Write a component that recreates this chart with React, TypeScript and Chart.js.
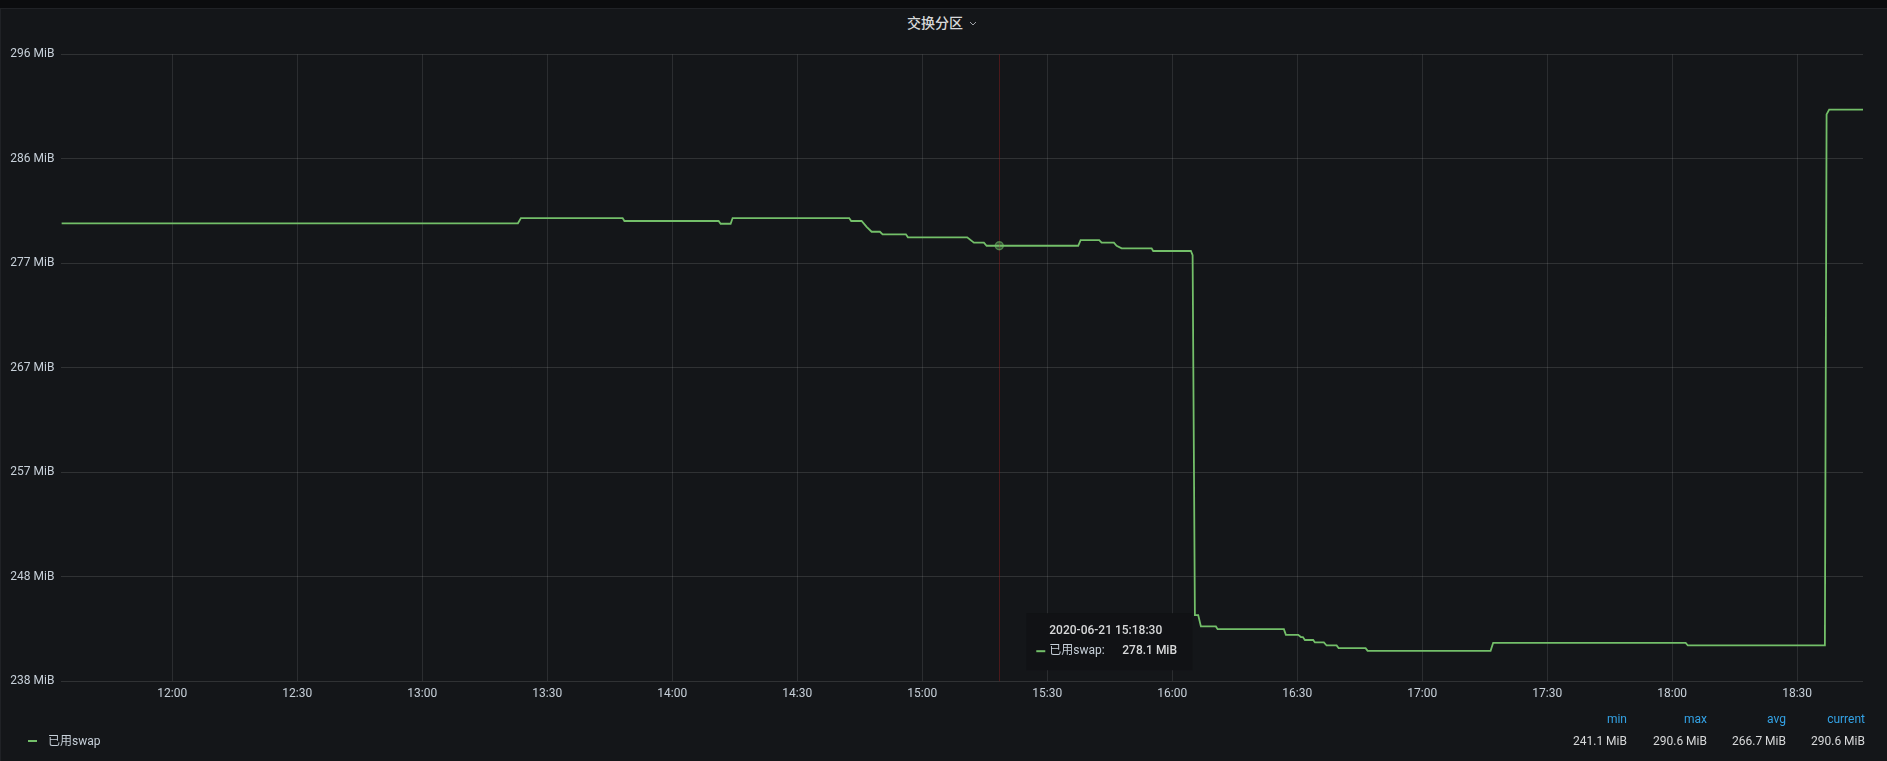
import React, { useEffect, useRef } from "react";
import { Chart, registerables } from "chart.js";

Chart.register(...registerables);

// ---------- data (time = minutes since midnight, value = MiB) ----------
const panelTitle = "交换分区";
const seriesName = "已用swap";

const sampleMinutes = [
  693.4, 802.97, 803.69, 828.1, 828.53, 851.14, 851.62, 854.02, 854.5, 882.48,
  882.96, 885.46, 886.66, 887.86, 889.85, 890.5, 896.09, 896.57, 910.8, 912.41,
  914.81, 915.46, 937.44, 938.02, 942.48, 943.06, 946.01, 946.66, 947.86, 955.06,
  955.44, 964.49, 964.9, 965.45, 966.24, 966.89, 970.49, 970.9, 986.81, 987.29,
  990.24, 990.89, 991.37, 991.85, 993.84, 994.25, 996.41, 997.06, 999.46, 999.94,
  1006.42, 1006.9, 1036.42, 1037.04, 1083.24, 1083.77, 1116.65, 1117.06, 1117.68, 1125.8,
];

const usedSwapMiB = [
  280.22, 280.22, 280.7, 280.7, 280.43, 280.43, 280.18, 280.18, 280.7, 280.7,
  280.43, 280.43, 279.9, 279.45, 279.45, 279.21, 279.21, 278.94, 278.94, 278.45,
  278.45, 278.17, 278.17, 278.69, 278.69, 278.45, 278.45, 278.17, 277.94, 277.94,
  277.69, 277.69, 277.32, 244.45, 244.45, 243.42, 243.42, 243.17, 243.17, 242.65,
  242.65, 242.45, 242.45, 242.18, 242.18, 241.96, 241.96, 241.68, 241.68, 241.44,
  241.44, 241.19, 241.19, 241.92, 241.92, 241.68, 241.68, 290.16, 290.6, 290.6,
];

const xTickLabels = [
  "12:00", "12:30", "13:00", "13:30", "14:00", "14:30", "15:00",
  "15:30", "16:00", "16:30", "17:00", "17:30", "18:00", "18:30",
];
const yTickBytes = [250e6, 260e6, 270e6, 280e6, 290e6, 300e6, 310e6];
const MIB = 1048576;

const xRangeMinutes = [693.4, 1125.8];

const legendStatHeaders = ["min", "max", "avg", "current"];
const legendStatValues = ["241.1 MiB", "290.6 MiB", "266.7 MiB", "290.6 MiB"];

const hoverTimeLabel = "2020-06-21 15:18:30";
const hoverMinute = 918.5;
const hoverValueMiB = 278.1;

// ---------- styling ----------
const FONT = "Roboto, 'Noto Sans CJK SC', 'DejaVu Sans', sans-serif";
const LINE_COLOR = "#73BF69";
const TEXT_COLOR = "#c7d0d9";

const toMinutes = (s: string) => {
  const [h, m] = s.split(":").map(Number);
  return h * 60 + m;
};
const fmtMinutes = (v: number) => {
  const h = Math.floor(v / 60);
  const m = Math.round(v - h * 60);
  return `${String(h).padStart(2, "0")}:${String(m).padStart(2, "0")}`;
};

const overlayPlugin = {
  id: "grafanaOverlay",
  afterDraw(chart: any) {
    const { ctx, chartArea, scales } = chart;
    const xs = scales.x;
    const ys = scales.y;
    const px = xs.getPixelForValue(hoverMinute);
    let lineVal = usedSwapMiB[0];
    for (let i = 0; i < sampleMinutes.length; i++) {
      if (sampleMinutes[i] <= hoverMinute) lineVal = usedSwapMiB[i];
    }
    const py = ys.getPixelForValue(lineVal);
    ctx.save();
    // crosshair
    ctx.strokeStyle = "rgba(160,30,30,0.4)";
    ctx.lineWidth = 1;
    ctx.beginPath();
    ctx.moveTo(Math.round(px) + 0.5, chartArea.top);
    ctx.lineTo(Math.round(px) + 0.5, chartArea.bottom);
    ctx.stroke();
    // hover point
    ctx.beginPath();
    ctx.arc(px, py, 4, 0, Math.PI * 2);
    ctx.fillStyle = "rgba(115,191,105,0.35)";
    ctx.fill();
    ctx.strokeStyle = "rgba(115,191,105,0.55)";
    ctx.lineWidth = 1.5;
    ctx.stroke();
    // tooltip box
    const bx = px + 27;
    const by = chartArea.bottom - 68;
    ctx.fillStyle = "#111215";
    ctx.fillRect(bx, by, 166, 57);
    ctx.textBaseline = "middle";
    ctx.textAlign = "left";
    ctx.fillStyle = "#d8d9da";
    ctx.font = `500 12px ${FONT}`;
    ctx.fillText(hoverTimeLabel, px + 50, by + 18);
    ctx.strokeStyle = LINE_COLOR;
    ctx.lineWidth = 2;
    ctx.beginPath();
    ctx.moveTo(px + 37, by + 38);
    ctx.lineTo(px + 46, by + 38);
    ctx.stroke();
    ctx.font = `12px ${FONT}`;
    ctx.fillStyle = "#c7d0d9";
    ctx.fillText(seriesName + ":", px + 50, by + 38);
    ctx.font = `500 12px ${FONT}`;
    ctx.fillStyle = "#d8d9da";
    ctx.fillText(hoverValueMiB.toFixed(1) + " MiB", px + 123, by + 38);
    ctx.restore();
  },
};

export default function App() {
  const canvasRef = useRef<HTMLCanvasElement | null>(null);

  useEffect(() => {
    document.body.style.margin = "0";
    document.body.style.background = "#0b0c0e";
    const canvas = canvasRef.current;
    if (!canvas) return;
    const points = sampleMinutes.map((m, i) => ({ x: m, y: usedSwapMiB[i] }));
    const chart = new Chart(canvas, {
      type: "line",
      data: {
        datasets: [
          {
            label: seriesName,
            data: points,
            borderColor: LINE_COLOR,
            borderWidth: 1.8,
            pointRadius: 0,
            fill: false,
            tension: 0,
          },
        ],
      },
      options: {
        responsive: false,
        animation: false,
        devicePixelRatio: 1,
        events: [],
        layout: { padding: { left: 0, top: 54.4, right: 24, bottom: 49.8 } },
        plugins: {
          legend: { display: false },
          tooltip: { enabled: false },
          title: { display: false },
        },
        scales: {
          x: {
            type: "linear",
            min: xRangeMinutes[0],
            max: xRangeMinutes[1],
            afterBuildTicks: (scale: any) => {
              scale.ticks = xTickLabels.map((l) => ({ value: toMinutes(l) }));
            },
            afterFit: (scale: any) => {
              scale.height = 30;
            },
            ticks: {
              callback: (v: any) => fmtMinutes(Number(v)),
              color: TEXT_COLOR,
              font: { family: FONT, size: 12 },
              padding: 6,
              maxRotation: 0,
              autoSkip: false,
            },
            grid: { color: "rgba(255,255,255,0.10)", drawTicks: false, lineWidth: 1 },
            border: { display: false },
          },
          y: {
            type: "linear",
            min: yTickBytes[0] / MIB,
            max: yTickBytes[yTickBytes.length - 1] / MIB,
            afterBuildTicks: (scale: any) => {
              scale.ticks = yTickBytes.map((b) => ({ value: b / MIB }));
            },
            afterFit: (scale: any) => {
              scale.width = 61.4;
            },
            ticks: {
              callback: (v: any) => `${Math.round(Number(v))} MiB`,
              color: TEXT_COLOR,
              font: { family: FONT, size: 12 },
              padding: 7,
            },
            grid: { color: "rgba(255,255,255,0.12)", drawTicks: false, lineWidth: 1 },
            border: { display: false },
          },
        },
      },
      plugins: [overlayPlugin],
    });
    return () => chart.destroy();
  }, []);

  const statRights = [1627, 1707, 1786, 1865];

  return (
    <div style={{ position: "relative", width: 1887, height: 761, overflow: "hidden", background: "#0b0c0e", fontFamily: FONT }}>
      <div
        style={{
          position: "absolute",
          left: 0,
          top: 8,
          width: 1900,
          height: 800,
          background: "#141619",
          borderTop: "1px solid #202226",
          borderLeft: "1px solid #202226",
          boxSizing: "border-box",
        }}
      />
      <div
        style={{
          position: "absolute",
          left: 0,
          top: 14,
          width: 1887,
          height: 18,
          lineHeight: "18px",
          textAlign: "center",
          color: "#d8d9da",
          fontSize: 14,
          fontWeight: 500,
        }}
      >
        <span>{panelTitle}</span>
        <svg width="14" height="10" style={{ marginLeft: 3, verticalAlign: "middle" }}>
          <polyline points="4,3 7,6 10,3" fill="none" stroke="#9fa3a8" strokeWidth="1" />
        </svg>
      </div>
      <canvas
        ref={canvasRef}
        width={1887}
        height={761}
        style={{ position: "absolute", left: 0, top: 0, width: 1887, height: 761, display: "block" }}
      />
      <div style={{ position: "absolute", left: 28, top: 740, width: 9, height: 2, background: LINE_COLOR }} />
      <div style={{ position: "absolute", left: 48, top: 733, height: 16, lineHeight: "16px", fontSize: 12, color: TEXT_COLOR }}>
        {seriesName}
      </div>
      {legendStatHeaders.map((h, i) => (
        <div
          key={h}
          style={{
            position: "absolute",
            right: 1887 - statRights[i],
            top: 711,
            height: 16,
            lineHeight: "16px",
            fontSize: 12,
            color: "#33a2e5",
            textAlign: "right",
          }}
        >
          {h}
        </div>
      ))}
      {legendStatValues.map((v, i) => (
        <div
          key={i}
          style={{
            position: "absolute",
            right: 1887 - statRights[i],
            top: 733,
            height: 16,
            lineHeight: "16px",
            fontSize: 12,
            color: "#d8d9da",
            textAlign: "right",
          }}
        >
          {v}
        </div>
      ))}
    </div>
  );
}
